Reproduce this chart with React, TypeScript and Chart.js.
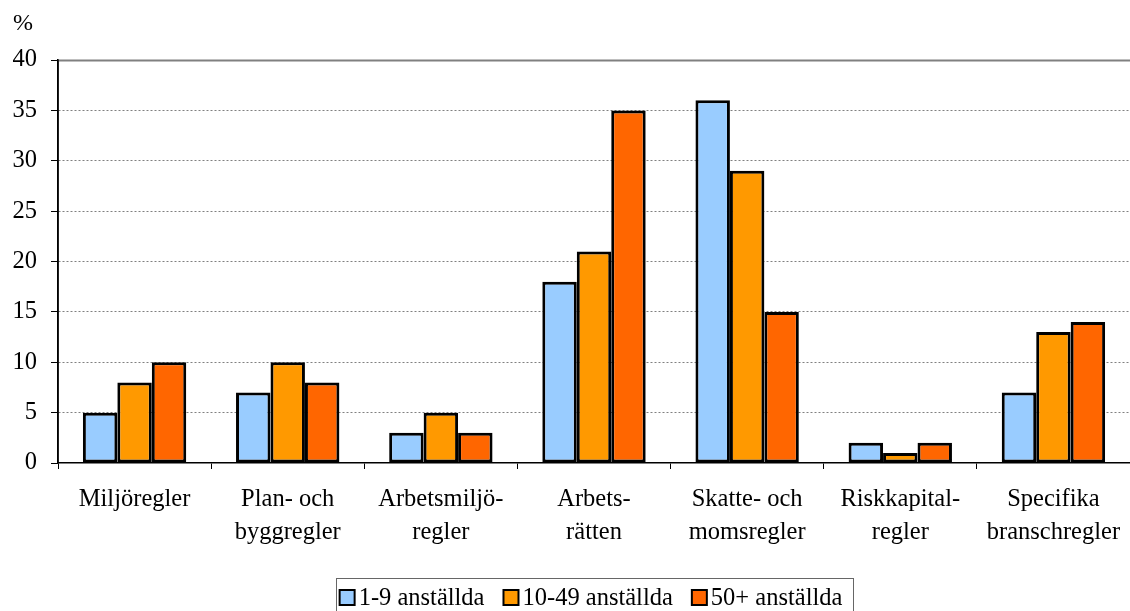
import React, { useEffect, useRef } from "react";
import { Chart, registerables } from "chart.js";

Chart.register(...registerables);

const categories: (string | string[])[] = [
  "Miljöregler",
  ["Plan- och", "byggregler"],
  ["Arbetsmiljö-", "regler"],
  ["Arbets-", "rätten"],
  ["Skatte- och", "momsregler"],
  ["Riskkapital-", "regler"],
  ["Specifika", "branschregler"],
];

const seriesNames = ["1-9 anställda", "10-49 anställda", "50+ anställda"];
const small = [5, 7, 3, 18, 36, 2, 7];
const medium = [8, 10, 5, 21, 29, 1, 13];
const large = [10, 8, 3, 35, 15, 2, 14];
const seriesColors = ["#99CCFF", "#FF9900", "#FF6600"];

const yMin = 0;
const yMax = 40;
const yStep = 5;
const unitLabel = "%";

const FONT = "'Liberation Serif', 'Times New Roman', serif";

const decorPlugin = {
  id: "decor",
  afterDraw(chart: any) {
    const ctx = chart.ctx;
    const area = chart.chartArea;
    const y = chart.scales.y;
    ctx.save();
    const yt = Math.round(y.getPixelForValue(yMax)) + 0.5;
    ctx.strokeStyle = "#808080";
    ctx.lineWidth = 2;
    ctx.beginPath();
    ctx.moveTo(area.left, yt);
    ctx.lineTo(area.right, yt);
    ctx.stroke();
    ctx.strokeStyle = "#000";
    ctx.lineWidth = 1.5;
    ctx.beginPath();
    ctx.moveTo(area.left, yt - 1);
    ctx.lineTo(area.left, area.bottom);
    ctx.stroke();

    ctx.fillStyle = "#000";
    ctx.font = `24px ${FONT}`;
    ctx.textAlign = "left";
    ctx.textBaseline = "middle";
    ctx.fillText(unitLabel, 13, 24);

    ctx.font = `24.5px ${FONT}`;
    const sq = 15;
    const sqGap = 4;
    const itemGap = 19;
    const widths = seriesNames.map((n) => ctx.measureText(n).width);
    const total = widths.reduce((a, w) => a + sq + sqGap + w, 0) + itemGap * (seriesNames.length - 1);
    const cx = 591;
    let x = cx - total / 2;
    const boxLeft = x - 4;
    const boxRight = cx + total / 2 + 10;
    const boxTop = 578.5;
    const boxBottom = 616;
    ctx.strokeStyle = "#666";
    ctx.lineWidth = 1;
    ctx.strokeRect(Math.round(boxLeft) + 0.5, boxTop, Math.round(boxRight - boxLeft), boxBottom - boxTop);
    const cy = 597.5;
    seriesNames.forEach((n, i) => {
      ctx.fillStyle = seriesColors[i];
      ctx.fillRect(x, cy - sq / 2, sq, sq);
      ctx.strokeStyle = "#000";
      ctx.lineWidth = 2;
      ctx.strokeRect(x, cy - sq / 2, sq, sq);
      ctx.fillStyle = "#000";
      ctx.textBaseline = "middle";
      ctx.fillText(n, x + sq + sqGap, cy + 1);
      x += sq + sqGap + widths[i] + itemGap;
    });
    ctx.restore();
  },
};

export default function App() {
  const ref = useRef<HTMLCanvasElement>(null);
  useEffect(() => {
    if (!ref.current) return;
    const chart = new Chart(ref.current, {
      type: "bar",
      data: {
        labels: categories,
        datasets: [small, medium, large].map((d, i) => ({
          label: seriesNames[i],
          data: d,
          backgroundColor: seriesColors[i],
          borderColor: "#000",
          borderWidth: 3,
          borderSkipped: false,
          categoryPercentage: 0.675,
          barPercentage: 1.0,
        })),
      },
      options: {
        responsive: false,
        animation: false,
        layout: { padding: { top: 60, left: 0, right: 0, bottom: 0 } },
        plugins: {
          legend: { display: false },
          tooltip: { enabled: false },
          title: { display: false },
        },
        scales: {
          x: {
            offset: true,
            grid: {
              display: true,
              offset: true,
              drawOnChartArea: false,
              drawTicks: true,
              tickLength: 6,
              tickColor: "#000",
              tickWidth: 1,
            },
            border: { display: true, color: "#000", width: 1.5 },
            ticks: {
              color: "#000",
              font: { family: FONT, size: 24.5, lineHeight: 1.35 },
              padding: 14,
              maxRotation: 0,
              autoSkip: false,
            },
            afterFit(scale: any) {
              scale.height = 148;
              scale.paddingLeft = 0;
              scale.paddingRight = 0;
            },
          },
          y: {
            min: yMin,
            max: yMax,
            grid: {
              color: (c: any) =>
                c.tick && (c.tick.value === yMin || c.tick.value === yMax) ? "rgba(0,0,0,0)" : "#808080",
              lineWidth: 1,
              tickColor: "#000",
              tickLength: 7,
              drawTicks: true,
            },
            border: { display: true, color: "#000", width: 1.5, dash: [2, 2] },
            ticks: {
              stepSize: yStep,
              color: "#000",
              font: { family: FONT, size: 24.5 },
              padding: 14,
            },
            afterFit(scale: any) {
              scale.width = 58;
            },
          },
        },
      },
      plugins: [decorPlugin],
    });
    return () => chart.destroy();
  }, []);
  return (
    <div style={{ position: "absolute", left: 0, top: 0, width: 1130, height: 611, background: "#fff" }}>
      <canvas ref={ref} width={1130} height={611} />
    </div>
  );
}
